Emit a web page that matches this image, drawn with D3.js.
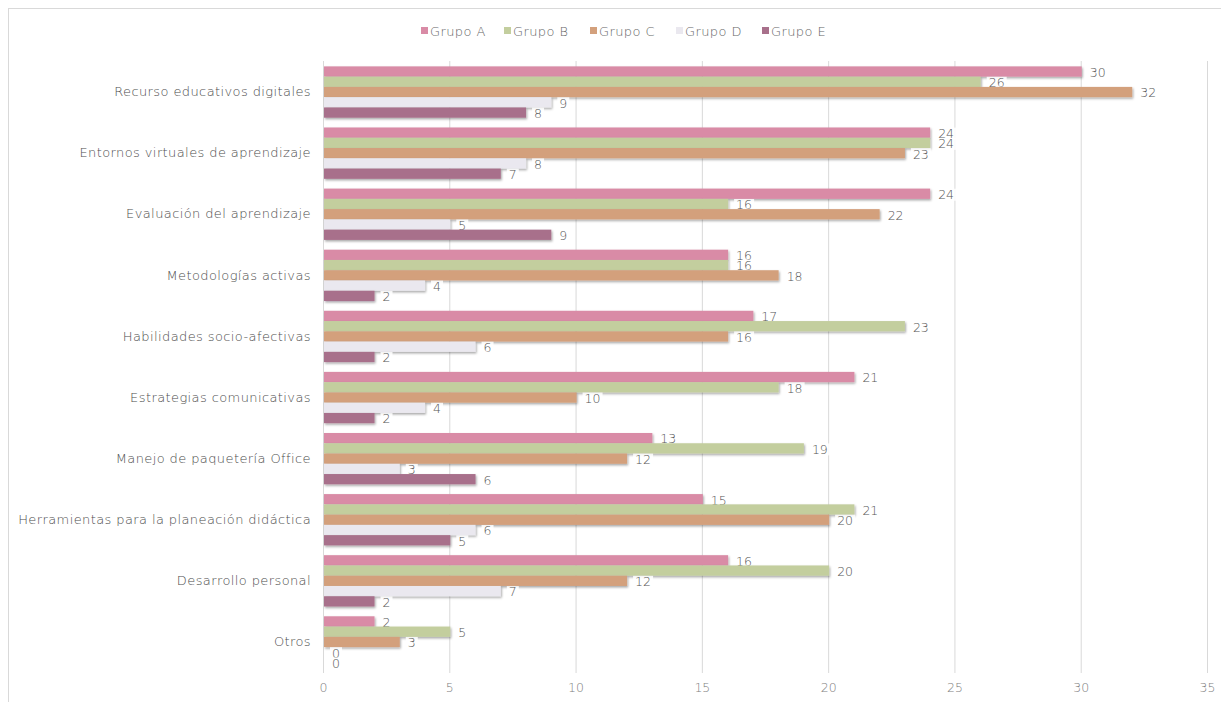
<!DOCTYPE html>
<html>
<head>
<meta charset="utf-8">
<script src="https://cdn.jsdelivr.net/npm/d3@7"></script>
<style>
  html, body { margin: 0; padding: 0; background: #fff; }
  svg { display: block; }
  text { font-family: "DejaVu Sans", sans-serif; font-weight: 200; }
</style>
</head>
<body>
<svg id="chart" width="1221" height="702"></svg>
<script>
const categories = [
  "Recurso educativos digitales",
  "Entornos virtuales de aprendizaje",
  "Evaluación del aprendizaje",
  "Metodologías activas",
  "Habilidades socio-afectivas",
  "Estrategias comunicativas",
  "Manejo de paquetería Office",
  "Herramientas para la planeación didáctica",
  "Desarrollo personal",
  "Otros"
];
const seriesNames = ["Grupo A", "Grupo B", "Grupo C", "Grupo D", "Grupo E"];
const grupoA = [30, 24, 24, 16, 17, 21, 13, 15, 16, 2];
const grupoB = [26, 24, 16, 16, 23, 18, 19, 21, 20, 5];
const grupoC = [32, 23, 22, 18, 16, 10, 12, 20, 12, 3];
const grupoD = [9, 8, 5, 4, 6, 4, 3, 6, 7, 0];
const grupoE = [8, 7, 9, 2, 2, 2, 6, 5, 2, 0];
const xTicks = [0, 5, 10, 15, 20, 25, 30, 35];
const colors = ["#d98ba6", "#c3ce9e", "#d3a07c", "#eae8ef", "#a8708b"];

const seriesValues = [grupoA, grupoB, grupoC, grupoD, grupoE];

const svg = d3.select("#chart");

// outer frame
svg.append("rect").attr("x", 8.5).attr("y", 8.5).attr("width", 1230).attr("height", 720)
  .attr("fill", "#fff").attr("stroke", "#d9d9d9").attr("stroke-width", 1);

const defs = svg.append("defs");
const f = defs.append("filter").attr("id", "shadow").attr("x", "-5%").attr("y", "-50%").attr("width", "115%").attr("height", "220%");
f.append("feDropShadow").attr("dx", 1).attr("dy", 1.5).attr("stdDeviation", 1.2)
  .attr("flood-color", "#000").attr("flood-opacity", 0.35);

const x = d3.scaleLinear().domain([0, 35]).range([323, 1207]);
const y = d3.scaleBand().domain(categories).range([61.5, 672.5]).paddingInner(0.16).paddingOuter(0.08);
const ySub = d3.scaleBand().domain(seriesNames).range([0, y.bandwidth()]);

// gridlines
svg.append("g").selectAll("line").data(xTicks).join("line")
  .attr("x1", d => x(d) + 0.5).attr("x2", d => x(d) + 0.5)
  .attr("y1", 61).attr("y2", 673)
  .attr("stroke", "#d9d9d9").attr("stroke-width", 1);

// x axis labels
const xAxis = d3.axisBottom(x).tickValues(xTicks).tickSize(0).tickPadding(0);
const gx = svg.append("g").attr("transform", "translate(0,683)").call(xAxis);
gx.select(".domain").remove();
gx.selectAll("text").attr("fill", "#7f7f7f").attr("font-size", 12.5).attr("dy", "0.7em")
  .style("font-family", "'DejaVu Sans', sans-serif").style("font-weight", 200);

// y axis labels
const yAxis = d3.axisLeft(y).tickSize(0).tickPadding(0);
const gy = svg.append("g").attr("transform", "translate(311,0)").call(yAxis);
gy.select(".domain").remove();
gy.selectAll("text").attr("fill", "#4d4d4d").attr("font-size", 13)
  .style("letter-spacing", "0.4px")
  .style("font-family", "'DejaVu Sans', sans-serif").style("font-weight", 200);

// bars per series, with labels drawn after each series so later bars overlap them
seriesNames.forEach((name, si) => {
  const vals = seriesValues[si];
  const data = categories.map((c, i) => ({ c, v: vals[i] }));
  const g = svg.append("g");
  g.selectAll("rect").data(data).join("rect")
    .attr("x", x(0) + 1)
    .attr("y", d => y(d.c) + ySub(name))
    .attr("width", d => Math.max(0, x(d.v) - x(0)))
    .attr("height", ySub.bandwidth())
    .attr("fill", colors[si])
    .attr("filter", d => d.v > 0 ? "url(#shadow)" : null);
  const lg = svg.append("g");
  const lab = lg.selectAll("g").data(data).join("g")
    .attr("transform", d => `translate(${x(d.v) + 9},${y(d.c) + ySub(name) + ySub.bandwidth() / 2 + 1})`);
  lab.append("rect").attr("x", -2).attr("y", -6).attr("height", 12)
    .attr("width", d => String(d.v).length * 8 + 4).attr("fill", "#fff").attr("opacity", 0.85);
  lab.append("text").text(d => d.v)
    .attr("fill", "#555").attr("font-size", 12.5).attr("dy", "0.35em");
});

// legend
const legendX = [421, 504, 590, 676, 762];
const lg = svg.append("g");
seriesNames.forEach((name, i) => {
  lg.append("rect").attr("x", legendX[i]).attr("y", 27).attr("width", 7).attr("height", 7).attr("fill", colors[i]);
  lg.append("text").attr("x", legendX[i] + 9).attr("y", 31).attr("dy", "0.35em")
    .attr("font-size", 13).style("letter-spacing", "0.4px").attr("fill", "#666").text(name);
});
</script>
</body>
</html>
